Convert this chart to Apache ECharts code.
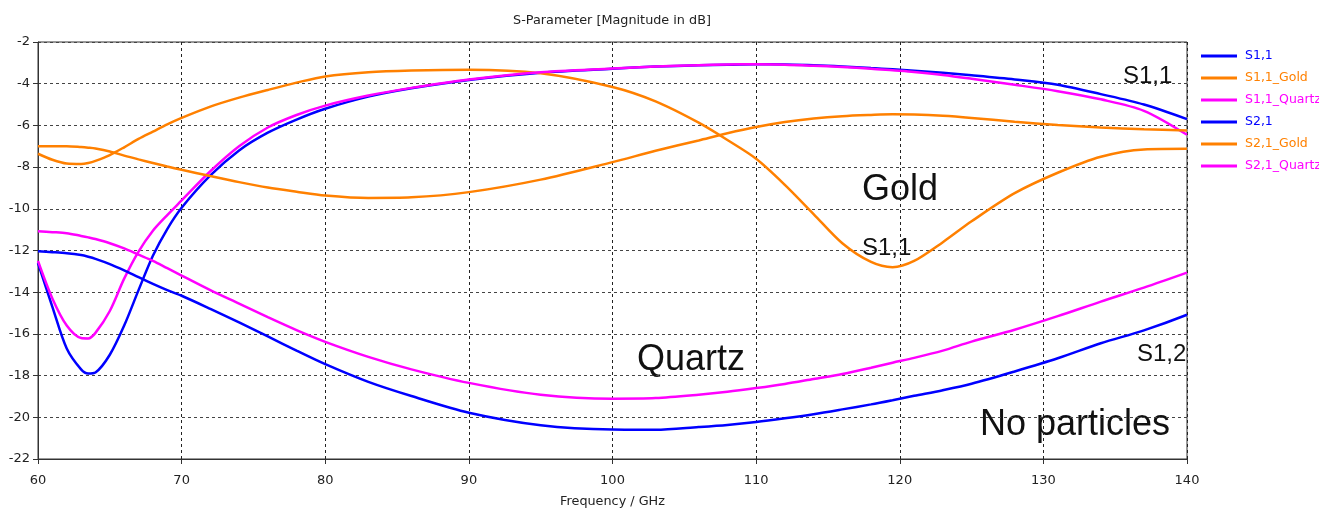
<!DOCTYPE html>
<html>
<head>
<meta charset="utf-8">
<title>S-Parameter</title>
<script src="https://cdn.jsdelivr.net/npm/echarts@6/dist/echarts.min.js"></script>
<style>
  html, body { margin: 0; padding: 0; background: #fff; }
  #chart { width: 1319px; height: 511px; }
</style>
</head>
<body>
<div id="chart"></div>
<script>
// frequency samples (GHz)
var freq = [60, 61, 62, 63, 63.5, 64, 65, 66, 67, 68, 69, 70, 72, 74, 76, 78, 80, 83, 86, 90,
            95, 100, 103, 106, 108, 110, 112, 114, 116, 118, 119.5, 121, 123, 125, 128, 131, 134, 137, 140];

// magnitudes in dB
var s11 = [-12.6, -14.7, -16.7, -17.7, -17.9, -17.85, -17.0, -15.6, -13.9, -12.25, -10.97, -9.95, -8.4, -7.2,
           -6.35, -5.72, -5.2, -4.62, -4.22, -3.82, -3.47, -3.28, -3.18, -3.12, -3.09, -3.07, -3.08, -3.11,
           -3.17, -3.25, -3.31, -3.38, -3.48, -3.6, -3.8, -4.05, -4.5, -5.0, -5.7];
var s11Gold = [-7.36, -7.65, -7.83, -7.85, -7.8, -7.7, -7.42, -7.05, -6.65, -6.3, -5.95, -5.64, -5.1, -4.67,
               -4.3, -3.95, -3.65, -3.45, -3.37, -3.33, -3.5, -4.16, -4.85, -5.87, -6.7, -7.6, -8.85, -10.25,
               -11.65, -12.55, -12.8, -12.5, -11.6, -10.6, -9.25, -8.27, -7.5, -7.15, -7.12];
var s11Quartz = [-12.5, -14.3, -15.6, -16.2, -16.22, -15.95, -14.9, -13.35, -12.05, -11.05, -10.3, -9.6, -8.2, -7.0,
                 -6.1, -5.5, -5.05, -4.57, -4.2, -3.8, -3.45, -3.27, -3.17, -3.11, -3.08, -3.07, -3.09, -3.14,
                 -3.2, -3.28, -3.36, -3.44, -3.58, -3.76, -4.05, -4.36, -4.75, -5.3, -6.45];
var s21 = [-12.04, -12.08, -12.13, -12.22, -12.3, -12.4, -12.65, -12.95, -13.28, -13.6, -13.9, -14.17, -14.8, -15.45,
           -16.12, -16.8, -17.45, -18.3, -18.98, -19.78, -20.38, -20.59, -20.6, -20.47, -20.37, -20.23, -20.05, -19.85,
           -19.62, -19.38, -19.18, -18.97, -18.7, -18.39, -17.8, -17.17, -16.45, -15.83, -15.08];
var s21Gold = [-7.0, -7.0, -7.0, -7.04, -7.07, -7.11, -7.25, -7.45, -7.63, -7.8, -7.97, -8.13, -8.43, -8.72,
               -8.98, -9.18, -9.36, -9.48, -9.45, -9.2, -8.6, -7.76, -7.22, -6.72, -6.38, -6.08, -5.84, -5.67,
               -5.56, -5.5, -5.47, -5.48, -5.54, -5.64, -5.82, -5.98, -6.1, -6.19, -6.24];
var s21Quartz = [-11.08, -11.12, -11.17, -11.3, -11.37, -11.45, -11.65, -11.9, -12.2, -12.5, -12.85, -13.2, -13.9, -14.55,
                 -15.2, -15.82, -16.38, -17.1, -17.7, -18.35, -18.92, -19.11, -19.08, -18.92, -18.78, -18.6, -18.4, -18.16,
                 -17.92, -17.62, -17.38, -17.15, -16.8, -16.37, -15.8, -15.15, -14.45, -13.78, -13.06];

var names = ['S1,1', 'S1,1_Gold', 'S1,1_Quartz', 'S2,1', 'S2,1_Gold', 'S2,1_Quartz'];
var values = [s11, s11Gold, s11Quartz, s21, s21Gold, s21Quartz];
var colors = ['#0000ff', '#ff8000', '#ff00ff', '#0000ff', '#ff8000', '#ff00ff'];

var uiFont = 'DejaVu Sans';
var noteFont = 'Liberation Sans';

function pairs(ys) {
    return freq.map(function (f, i) { return [f, ys[i]]; });
}

var chart = echarts.init(document.getElementById('chart'), null, {renderer: 'canvas'});

chart.setOption({
    animation: false,
    backgroundColor: '#fff',
    title: {
        text: 'S-Parameter [Magnitude in dB]',
        left: 607,
        textAlign: 'center',
        top: 9,
        textStyle: {fontFamily: uiFont, fontSize: 12.8, fontWeight: 'normal', color: '#222'}
    },
    grid: {
        left: 38, right: 132, top: 42, bottom: 52,
        outerBoundsMode: 'none',
        show: true, borderColor: '#333', borderWidth: 1
    },
    legend: {
        orient: 'vertical',
        left: 1201, top: 49, padding: 0,
        itemWidth: 36, itemHeight: 3, itemGap: 8,
        icon: 'rect',
        textStyle: {fontFamily: uiFont, fontSize: 12.5, lineHeight: 14, padding: [0, 0, 0, 3]},
        data: names.map(function (n, i) {
            return {name: n, textStyle: {color: colors[i]}};
        })
    },
    xAxis: {
        type: 'value', min: 60, max: 140, interval: 10,
        name: 'Frequency / GHz', nameLocation: 'middle', nameGap: 36,
        nameTextStyle: {fontFamily: uiFont, fontSize: 12.8, color: '#222'},
        axisLine: {lineStyle: {color: '#333', width: 1}},
        axisTick: {show: true, length: 5, lineStyle: {color: '#333'}},
        axisLabel: {fontFamily: uiFont, fontSize: 13, color: '#222', margin: 15},
        splitLine: {show: true, lineStyle: {color: '#222', type: [3, 3], width: 1}}
    },
    yAxis: {
        type: 'value', min: -22, max: -2, interval: 2,
        axisLine: {show: true, lineStyle: {color: '#333', width: 1}},
        axisTick: {show: true, length: 5, lineStyle: {color: '#333'}},
        axisLabel: {fontFamily: uiFont, fontSize: 13, color: '#222', margin: 8},
        splitLine: {show: true, lineStyle: {color: '#444', type: [3, 3], width: 1}}
    },
    series: names.map(function (n, i) {
        return {
            name: n, type: 'line', data: pairs(values[i]),
            showSymbol: false, smooth: 0.3,
            color: colors[i],
            lineStyle: {color: colors[i], width: 2.5}
        };
    }),
    graphic: [
        {type: 'text', x: 1123, y: 64, style: {text: 'S1,1', font: '24px ' + noteFont, fill: '#111'}},
        {type: 'text', x: 862, y: 172, style: {text: 'Gold', font: '36px ' + noteFont, fill: '#111'}},
        {type: 'text', x: 862, y: 236, style: {text: 'S1,1', font: '24px ' + noteFont, fill: '#111'}},
        {type: 'text', x: 637, y: 342, style: {text: 'Quartz', font: '36px ' + noteFont, fill: '#111'}},
        {type: 'text', x: 1137, y: 342, style: {text: 'S1,2', font: '24px ' + noteFont, fill: '#111'}},
        {type: 'text', x: 980, y: 407, style: {text: 'No particles', font: '36px ' + noteFont, fill: '#111'}}
    ]
});
</script>
</body>
</html>
